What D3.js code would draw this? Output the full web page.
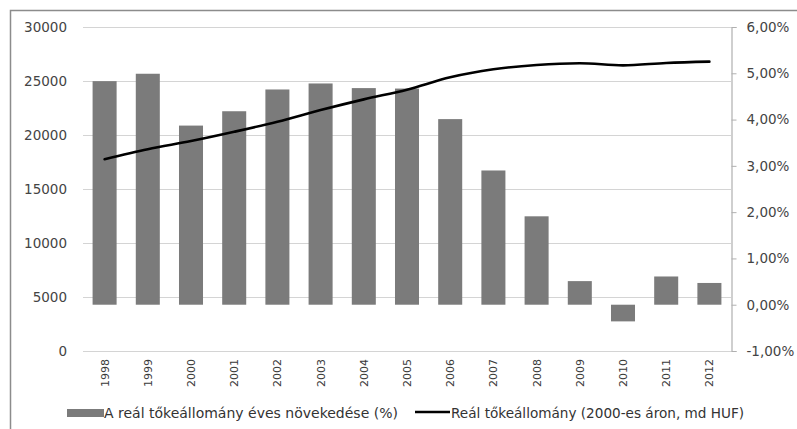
<!DOCTYPE html>
<html>
<head>
<meta charset="utf-8">
<script src="https://cdn.jsdelivr.net/npm/d3@7"></script>
<style>
  html, body { margin: 0; padding: 0; background: #fff; }
  svg { display: block; font-family: "DejaVu Sans", sans-serif; }
</style>
</head>
<body>
<svg id="chart" width="797" height="429"></svg>
<script>
// Years on the category axis
const years = ["1998","1999","2000","2001","2002","2003","2004","2005","2006","2007","2008","2009","2010","2011","2012"];
// Annual growth of the real capital stock (%), right axis
const growth = [4.83, 4.99, 3.87, 4.18, 4.65, 4.78, 4.68, 4.67, 4.01, 2.90, 1.91, 0.51, -0.36, 0.61, 0.47];
// Real capital stock (2000 prices, bn HUF), left axis
const stock = [17750, 18680, 19440, 20300, 21230, 22310, 23300, 24200, 25340, 26080, 26480, 26640, 26450, 26670, 26790];
// Tick values
const leftTicks = [0, 5000, 10000, 15000, 20000, 25000, 30000];
const rightTicks = [-1, 0, 1, 2, 3, 4, 5, 6];
const legendLabels = ["A reál tőkeállomány éves növekedése (%)", "Reál tőkeállomány (2000-es áron, md HUF)"];

const svg = d3.select("#chart");
const plot = { left: 83, right: 731, top: 27, bottom: 351 };

const x = d3.scaleBand().domain(years).range([plot.left, plot.right])
  .paddingInner(0.444).paddingOuter(0.222);
const yL = d3.scaleLinear().domain([0, 30000]).range([plot.bottom, plot.top]);
const yR = d3.scaleLinear().domain([-1, 6]).range([plot.bottom, plot.top]);

// Outer frame
svg.append("rect").attr("x", 10.5).attr("y", 10.5).attr("width", 820).attr("height", 440)
  .attr("fill", "#fff").attr("stroke", "#8c8c8c").attr("stroke-width", 1.5);

// Horizontal gridlines from the left axis
svg.append("g").selectAll("line").data(leftTicks).join("line")
  .attr("x1", plot.left).attr("x2", plot.right)
  .attr("y1", d => Math.round(yL(d)) + 0.5).attr("y2", d => Math.round(yL(d)) + 0.5)
  .attr("stroke", "#d4d4d4").attr("stroke-width", 1.2);

// Left axis labels
const leftAxis = d3.axisLeft(yL).tickValues(leftTicks).tickSize(0).tickPadding(0).tickFormat(d3.format("d"));
const gL = svg.append("g").attr("transform", `translate(67,0)`).call(leftAxis);
gL.select(".domain").remove();
gL.selectAll("text").attr("font-size", "13.5px").attr("fill", "#444").attr("font-family", "DejaVu Sans");

// Right axis with outward ticks
const rightAxis = d3.axisRight(yR).tickValues(rightTicks).tickSize(5).tickPadding(10)
  .tickFormat(d => d.toFixed(2).replace(".", ",") + "%");
const gR = svg.append("g").attr("transform", `translate(${plot.right + 0.5},0)`).call(rightAxis);
gR.select(".domain").attr("stroke", "#b0b0b0").attr("stroke-width", 1.2);
gR.selectAll(".tick line").attr("stroke", "#b0b0b0");
gR.selectAll("text").attr("font-size", "13.5px").attr("fill", "#444").attr("font-family", "DejaVu Sans");

// Growth bars (right axis)
svg.append("g").selectAll("rect").data(years).join("rect")
  .attr("x", d => x(d))
  .attr("width", x.bandwidth())
  .attr("y", (d, i) => Math.min(yR(growth[i]), yR(0)))
  .attr("height", (d, i) => Math.abs(yR(growth[i]) - yR(0)))
  .attr("fill", "#7b7b7b");

// Capital stock line (left axis)
const line = d3.line()
  .x((d, i) => x(years[i]) + x.bandwidth() / 2)
  .y(d => yL(d))
  .curve(d3.curveMonotoneX);
svg.append("path").datum(stock).attr("d", line)
  .attr("fill", "none").attr("stroke", "#000").attr("stroke-width", 2.6)
  .attr("stroke-linejoin", "round").attr("stroke-linecap", "round");

// Rotated year labels
svg.append("g").selectAll("text").data(years).join("text")
  .attr("transform", d => `translate(${x(d) + x.bandwidth() / 2},359) rotate(-90)`)
  .attr("text-anchor", "end").attr("dy", "0.36em")
  .attr("font-size", "11px").attr("fill", "#3a3a3a")
  .text(d => d);

// Legend
const lg = svg.append("g");
lg.append("rect").attr("x", 67).attr("y", 409).attr("width", 37).attr("height", 8).attr("fill", "#7b7b7b");
lg.append("text").attr("x", 104).attr("y", 418).attr("font-size", "14px").attr("fill", "#333")
  .text(legendLabels[0]);
lg.append("line").attr("x1", 415).attr("x2", 450).attr("y1", 412).attr("y2", 412)
  .attr("stroke", "#000").attr("stroke-width", 2.6);
lg.append("text").attr("x", 451).attr("y", 418).attr("font-size", "13.6px").attr("fill", "#333")
  .text(legendLabels[1]);
</script>
</body>
</html>
